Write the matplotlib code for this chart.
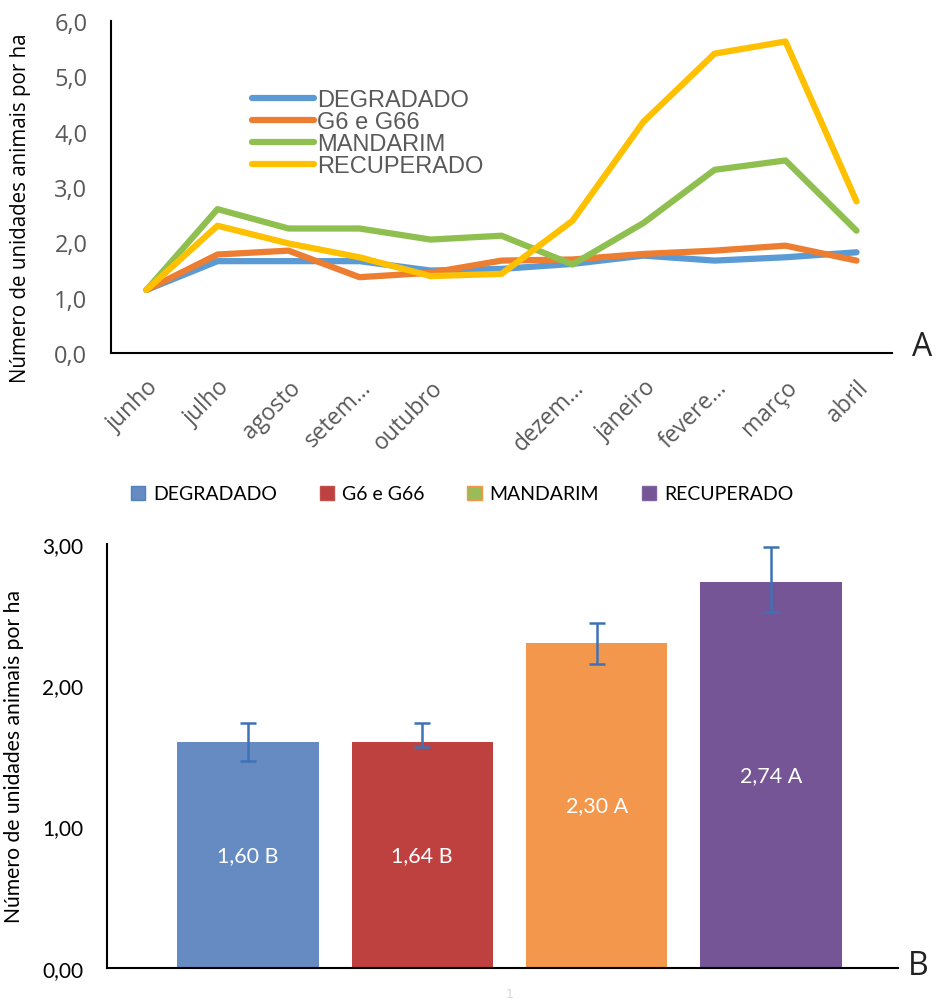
import matplotlib
matplotlib.use("Agg")
import matplotlib.pyplot as plt
from matplotlib.patches import Patch

# panel A - monthly stocking rate
months = ["junho", "julho", "agosto", "setem…", "outubro", "", "dezem…",
          "janeiro", "fevere…", "março", "abril"]
degradado = [1.14, 1.66, 1.66, 1.66, 1.49, 1.52, 1.61, 1.76, 1.67, 1.73, 1.82]
g6_g66 = [1.14, 1.78, 1.85, 1.37, 1.45, 1.67, 1.69, 1.79, 1.85, 1.94, 1.67]
mandarim = [1.14, 2.60, 2.25, 2.25, 2.05, 2.12, 1.60, 2.35, 3.31, 3.48, 2.21]
recuperado = [1.14, 2.30, 1.98, 1.73, 1.39, 1.43, 2.39, 4.18, 5.41, 5.63, 2.74]
series_names = ["DEGRADADO", "G6 e G66", "MANDARIM", "RECUPERADO"]
line_colors = ["#5B9BD5", "#ED7D31", "#8FC04F", "#FFC000"]

# panel B - means with error bars
bar_means = [1.60, 1.60, 2.30, 2.73]
err_low = [1.46, 1.56, 2.15, 2.52]
err_high = [1.73, 1.73, 2.44, 2.98]
bar_labels = ["1,60 B", "1,64 B", "2,30 A", "2,74 A"]
bar_colors = ["#658BC2", "#BE4140", "#F2974B", "#765596"]

W, H = 938, 1004
fig = plt.figure(figsize=(W / 100, H / 100), dpi=100)

# ---------- A ----------
ax = fig.add_axes([111 / W, 1 - 354 / H, (892 - 111) / W, (354 - 22) / H])
x = list(range(len(months)))
for vals, c, name in zip([degradado, g6_g66, mandarim, recuperado], line_colors, series_names):
    ax.plot(x, vals, color=c, lw=4.5, label=name,
            solid_capstyle="round", solid_joinstyle="round")
ax.set_xlim(-0.5, 10.5)
ax.set_ylim(0, 6)
ax.set_yticks([0, 1, 2, 3, 4, 5, 6])
ax.set_yticklabels(["0,0", "1,0", "2,0", "3,0", "4,0", "5,0", "6,0"],
                   fontfamily="Open Sans", fontsize=17, color="#595959")
ax.set_xticks(x)
ax.set_xticklabels(months, rotation=45, ha="right", va="top",
                   rotation_mode="anchor", fontfamily="Open Sans",
                   fontsize=16.5, color="#595959")
ax.tick_params(length=0)
ax.tick_params(axis="y", pad=17)
ax.tick_params(axis="x", pad=16)
for s in ["top", "right"]:
    ax.spines[s].set_visible(False)
for s in ["left", "bottom"]:
    ax.spines[s].set_linewidth(1.5)
    ax.spines[s].set_color("black")
ax.set_ylabel("Número de unidades animais por ha", fontfamily="Open Sans",
              fontsize=14.8, color="black")
ax.yaxis.set_label_coords(-0.103, 0.44)
leg = ax.legend(loc="upper left", bbox_to_anchor=(0.166, 0.83), frameon=False,
                handlelength=2.6, handletextpad=0.15, labelspacing=0.0,
                borderpad=0, prop={"family": "Liberation Sans", "size": 17})
for t in leg.get_texts():
    t.set_color("#595959")
fig.text(912 / W, 1 - 347 / H, "A", fontsize=23, fontfamily="Open Sans",
         va="center", ha="left", color="#222222")

# ---------- B ----------
bx = fig.add_axes([107 / W, 1 - 968.7 / H, (898 - 107) / W, (968.7 - 545) / H])
pos = list(range(len(bar_means)))
bars = bx.bar(pos, bar_means, width=0.81, color=bar_colors)
lower = [m - lo for m, lo in zip(bar_means, err_low)]
upper = [hi - m for m, hi in zip(bar_means, err_high)]
bx.errorbar(pos, bar_means, yerr=[lower, upper], fmt="none", ecolor="#3F72B5",
            elinewidth=1.8, capsize=6, capthick=1.8)
bx.bar_label(bars, labels=bar_labels, label_type="center", color="white",
             fontsize=15.5, fontfamily="Lato")
bx.set_xlim(-0.808, 3.728)
bx.set_ylim(0, 3)
bx.set_yticks([0, 1, 2, 3])
bx.set_yticklabels(["0,00", "1,00", "2,00", "3,00"], fontfamily="Lato",
                   fontsize=15, color="black")
bx.set_xticks([])
bx.tick_params(length=0, pad=17)
for s in ["top", "right"]:
    bx.spines[s].set_visible(False)
for s in ["left", "bottom"]:
    bx.spines[s].set_linewidth(1.5)
    bx.spines[s].set_color("black")
bx.set_ylabel("Número de unidades animais por ha", fontfamily="Lato",
              fontsize=15.2, color="black")
bx.yaxis.set_label_coords(-0.105, 0.5)

handles = [Patch(facecolor=bar_colors[0], edgecolor="#4F81BD"),
           Patch(facecolor=bar_colors[1], edgecolor="#C0504D"),
           Patch(facecolor="#9BBB59", edgecolor="#F79646"),
           Patch(facecolor=bar_colors[3], edgecolor="#8064A2")]
fig.legend(handles, series_names, loc="center", bbox_to_anchor=(462 / W, 1 - 495 / H),
           ncol=4, frameon=False, handlelength=0.75, handleheight=0.75,
           handletextpad=0.4, columnspacing=2.2,
           prop={"family": "Lato", "size": 14})
fig.text(908 / W, 1 - 967 / H, "B", fontsize=23, fontfamily="Open Sans",
         va="center", ha="left", color="#222222")
fig.text(510 / W, 1 - 995 / H, "1", fontsize=9, color="#d8d8d8",
         ha="center", va="center")

fig.savefig("out.png", dpi=100)
